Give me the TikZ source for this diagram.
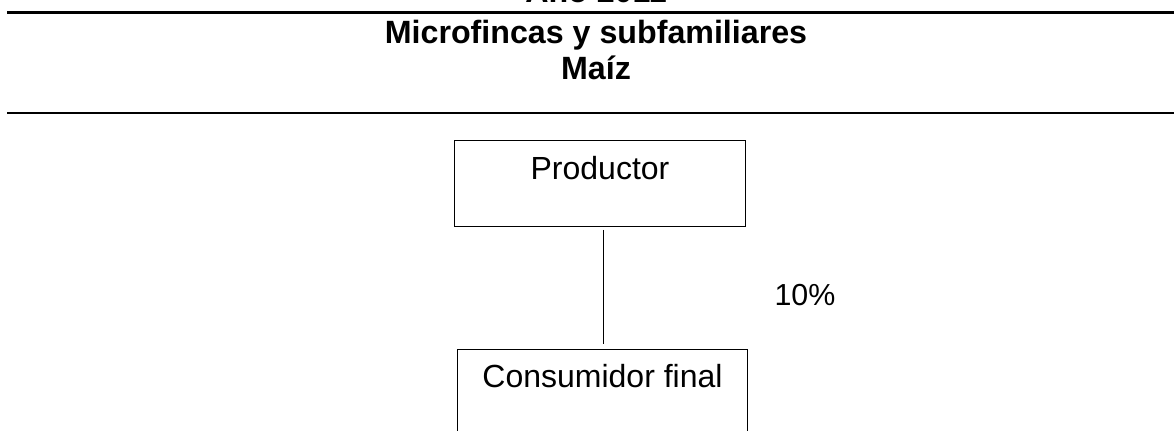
\documentclass[tikz,border=0pt]{standalone}
\usepackage{fontspec}
\setmainfont{Liberation Sans}
\usetikzlibrary{positioning}

\begin{document}
\begin{tikzpicture}[x=0.5pt, y=-0.5pt,
	caja/.style={draw, line width=0.5pt, inner sep=0pt, minimum width=145.5pt, font=\fontsize{16}{18}\selectfont},
	titulo/.style={inner sep=0pt, anchor=base, font=\fontsize{16.1}{18}\selectfont\bfseries},
	etiqueta/.style={inner sep=0pt, anchor=base, font=\fontsize{15.2}{18}\selectfont},
	linea/.style={line width=0.5pt}]
	\useasboundingbox (0,0) rectangle (1174,431);
	% encabezado
	\node[titulo] (anio) at (596,3) {Año 2011};
	\draw[line width=1.5pt] (7,13) -- (1174,13);
	\node[titulo] (tit) at (596,44) {Microfincas y subfamiliares};
	\node[titulo] (cultivo) at (596,80) {Maíz};
	\draw[line width=1pt] (7,113) -- (1174,113);
	% cadena
	\node[caja, anchor=north west, text height=19.5pt, text depth=23.5pt] (prod) at (454,140) {Productor};
	\node[caja, anchor=north west, minimum width=145pt, text height=19pt, text depth=30pt] (cons) at (457,349) {Consumidor final};
	\draw[linea, shorten <=1.5pt, shorten >=2.5pt] ([xshift=1.5pt]prod.south) -- ([xshift=1.5pt]prod.south |- cons.north);
	\node[etiqueta] (pct) at (805,306) {10\%};
\end{tikzpicture}
\end{document}
